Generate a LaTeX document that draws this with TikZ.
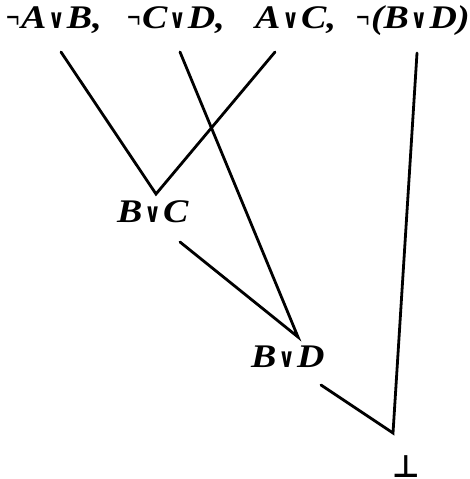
\documentclass[tikz,border=0pt]{standalone}
\usepackage{fontspec}
\usepackage{graphicx}
\setmainfont{Liberation Serif}
\newfontfamily\dejavu{DejaVu Sans}
\newcommand{\myor}{\kern1.5pt{\upshape\dejavu\bfseries\fontsize{27}{28}\selectfont\scalebox{0.66}[1]{∨}}\kern2pt}
\newcommand{\mynot}{{\upshape\scalebox{0.63}[1]{¬}}\kern1pt}
\tikzset{
  fml/.style={inner sep=0pt,anchor=base west,xscale=1.15,transform shape,font=\fontsize{33}{38}\selectfont\bfseries\itshape},
  conn/.style={line width=2.8pt,line cap=round,line join=miter}}
\begin{document}
\begin{tikzpicture}[x=1pt,y=-1pt]
\useasboundingbox (0,0) rectangle (469,479);
% formulas
\node[fml] (p1) at (6,28) {\mynot A\myor B,};
\node[fml] (p2) at (127,28) {\mynot C\myor D,};
\node[fml] (p3) at (255,28) {A\myor C,};
\node[fml] (p4) at (356,28) {\mynot(B\myor D)};
\node[fml] (bc) at (117,222) {B\myor C};
\node[fml] (bd) at (251,367) {B\myor D};
\node[inner sep=0pt,anchor=base,font=\dejavu\bfseries\fontsize{31}{34}\selectfont] (bot) at (406,477.5) {\scalebox{0.97}[1]{⊥}};
% line ends
\coordinate (s1) at (61,52);
\coordinate (s2) at (180,52);
\coordinate (s3) at (275,52);
\coordinate (s4) at (417,53);
\coordinate (sbc) at (180,242);
\coordinate (sbd) at (321,385);
\coordinate (v1) at (156,194);
\coordinate (v2) at (298,337);
\coordinate (v3) at (393,433);
% connectors
\draw[conn] (s1) -- (v1) -- (s3);
\draw[conn] (s2) -- (v2) -- (sbc);
\draw[conn] (s4) -- (v3) -- (sbd);
\end{tikzpicture}
\end{document}
